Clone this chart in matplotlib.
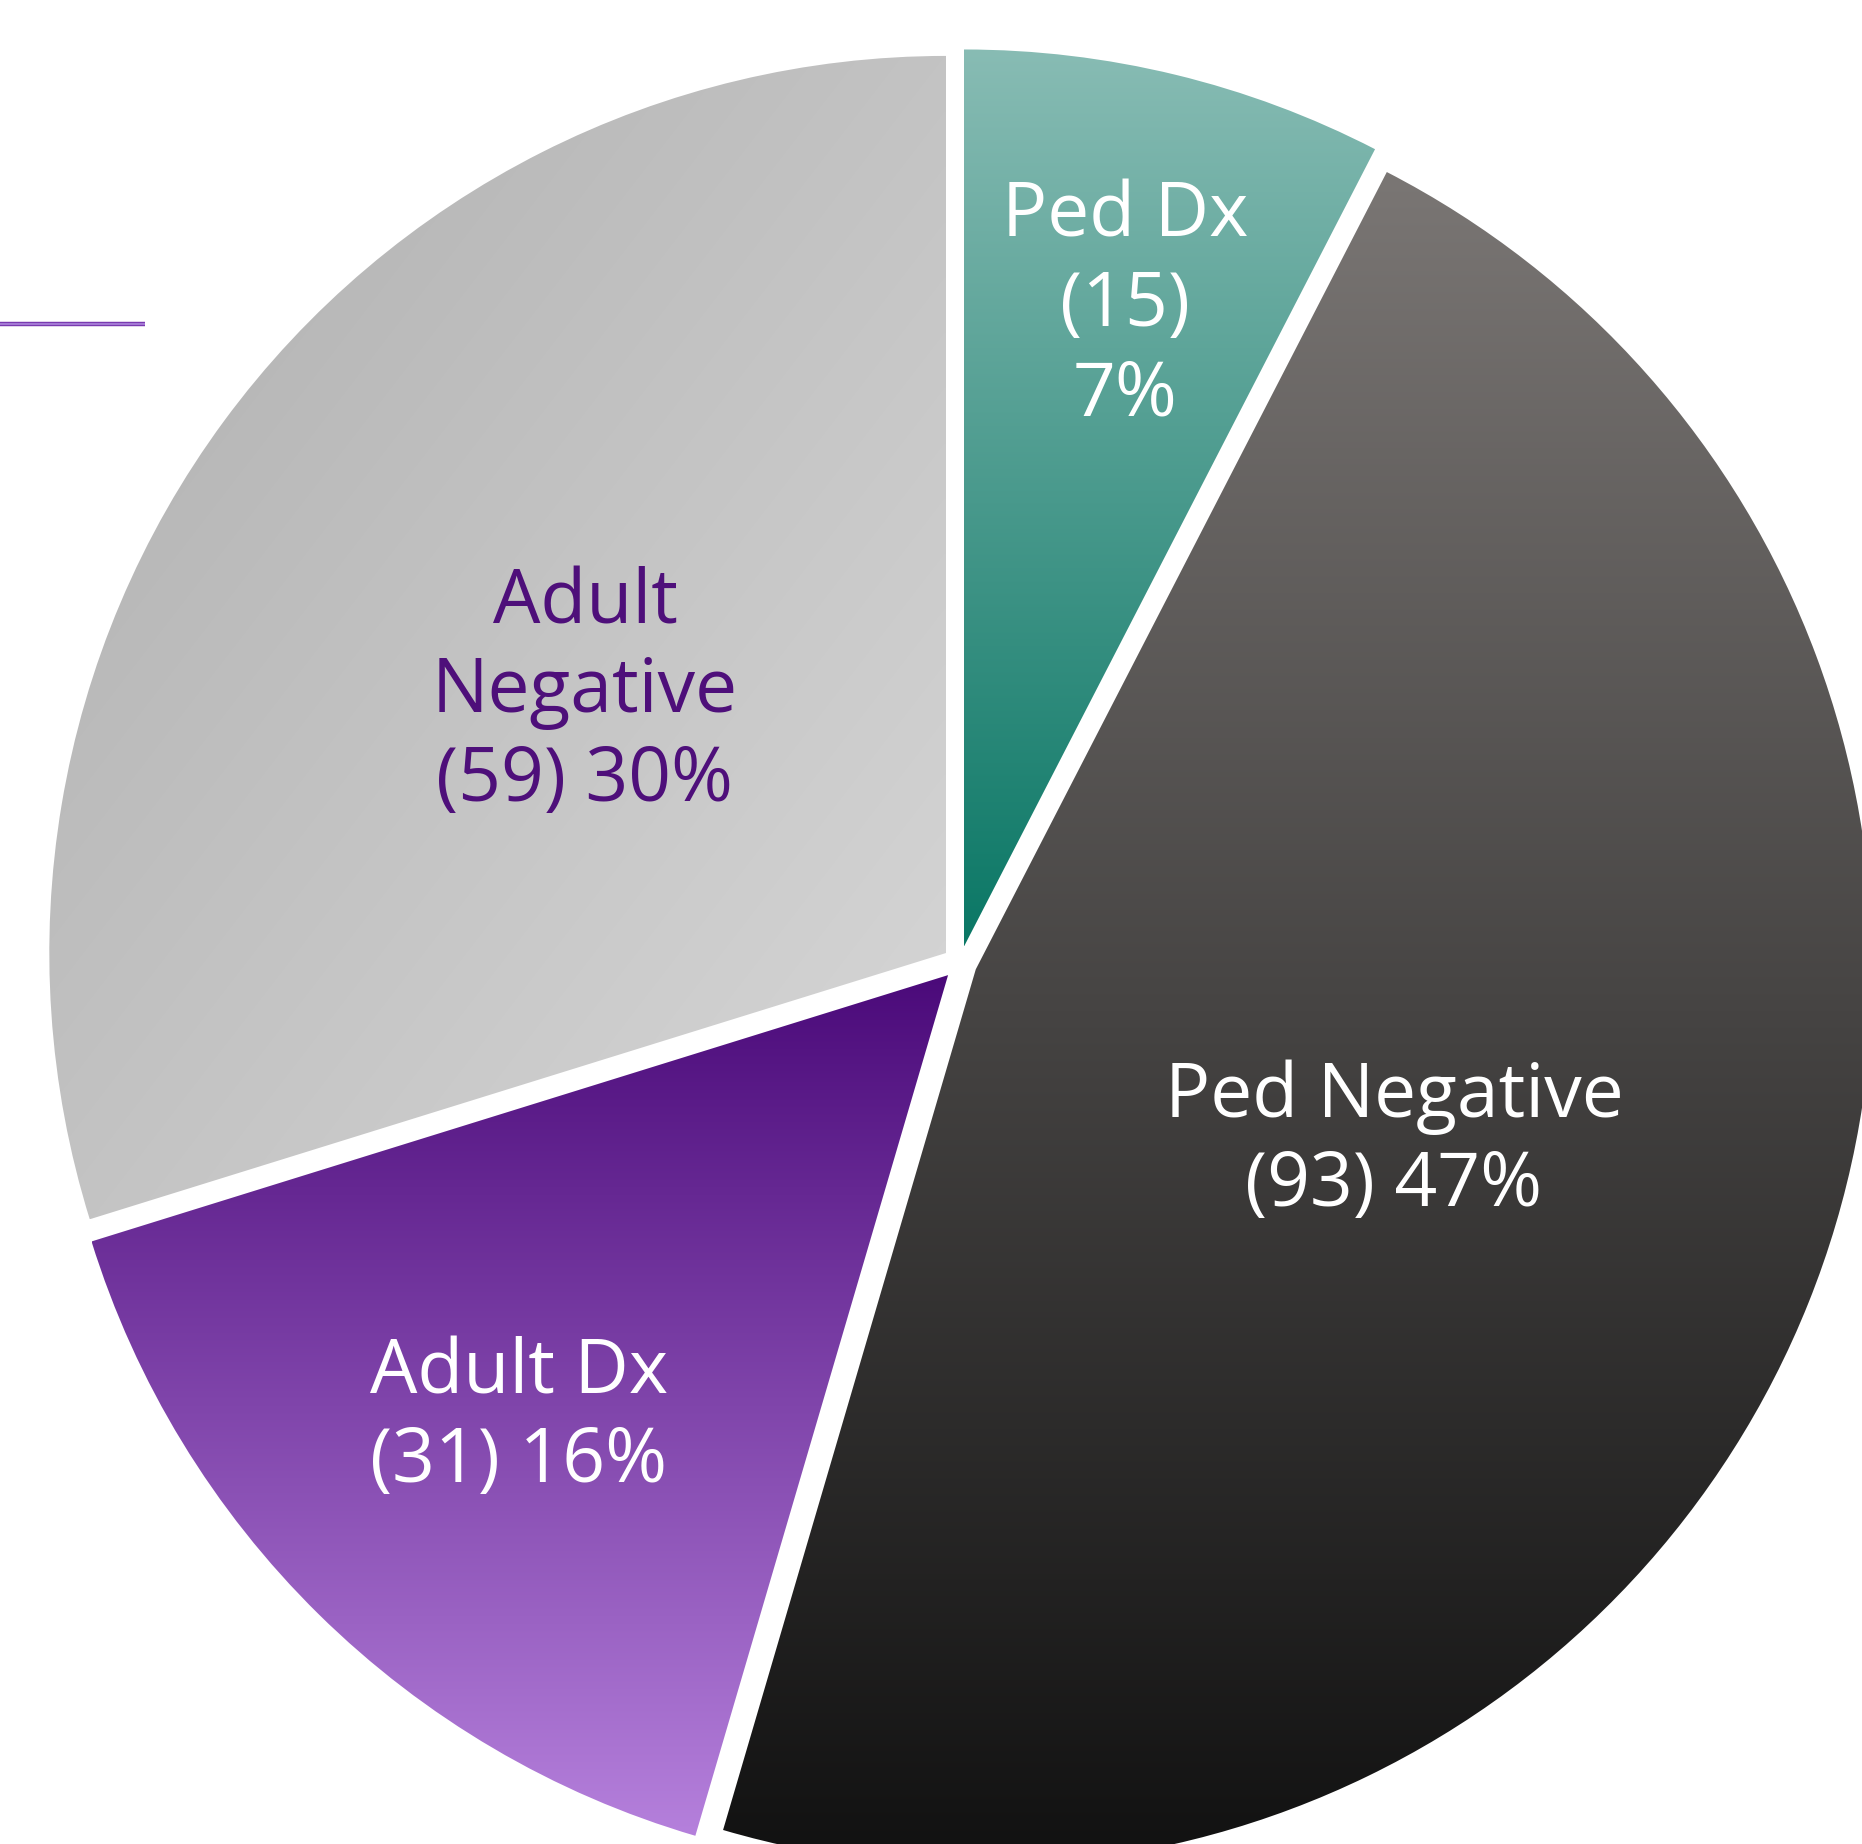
import matplotlib
matplotlib.use("Agg")
import matplotlib.pyplot as plt
import numpy as np
from matplotlib.colors import to_rgb

# data
names = ["Ped Dx", "Ped Negative", "Adult Dx", "Adult Negative"]
counts = [15, 93, 31, 59]
pct_text = ["7%", "47%", "16%", "30%"]

# label text as broken in the picture
label_lines = [
    ["Ped Dx", "(15)", "7%"],
    ["Ped Negative", "(93) 47%"],
    ["Adult Dx", "(31) 16%"],
    ["Adult", "Negative", "(59) 30%"],
]
# text anchor (x, first baseline) in pixels from top-left
label_pos = [(1125, 237), (1394, 1117), (519, 1393), (585, 623)]
label_col = ["white", "white", "white", "#4e0f7a"]

# gradient colours (start, end, direction)
grads = [
    ("#88bcb4", "#0a7765", "v"),
    ("#7a7674", "#111111", "v"),
    ("#4b0a7a", "#b580dc", "v"),
    ("#aeaeae", "#d8d8d8", "d"),
]

W, H = 1862, 1844
fig = plt.figure(figsize=(W / 100, H / 100), dpi=100)
ax = fig.add_axes([0, 0, 1, 1])

cx, cy, r = 960, H - 963, 897
# explode is in data units here (pixels)
wedges, _ = ax.pie(counts, startangle=90, counterclock=False, radius=r,
                   center=(cx, cy), explode=[17] * 4, frame=True,
                   wedgeprops=dict(linewidth=0))

for w, (c0, c1, kind) in zip(wedges, grads):
    bb = w.get_path().get_extents()
    x0, y0, x1, y1 = bb.x0, bb.y0, bb.x1, bb.y1
    n = 300
    if kind == "v":
        # top colour c0 -> bottom colour c1
        t = np.linspace(1, 0, n)[:, None] * np.ones((1, 2))
    else:
        yy, xx = np.mgrid[0:1:n * 1j, 0:1:n * 1j]
        # top-left darker grey, bottom-right lighter
        t = (xx + (1 - yy)) / 2
    a = np.array(to_rgb(c0))
    b = np.array(to_rgb(c1))
    img = a[None, None, :] * (1 - t[..., None]) + b[None, None, :] * t[..., None]
    im = ax.imshow(img, extent=(x0, x1, y0, y1), origin="lower",
                   aspect="auto", interpolation="bilinear", zorder=1)
    im.set_clip_path(w)
    w.set_facecolor("none")

for lines, (x, y), col in zip(label_lines, label_pos, label_col):
    for i, s in enumerate(lines):
        ax.text(x, H - (y + i * 89), s, ha="center", va="baseline",
                fontsize=54, color=col, family="Open Sans", zorder=3)

# stray purple stroke at the left edge
ax.plot([0, 145], [H - 324, H - 324], color="#7a3ab0", lw=3.2, zorder=2,
        solid_capstyle="butt")
ax.plot([0, 145], [H - 324, H - 324], color="#a57ad6", lw=1.4, zorder=2,
        solid_capstyle="butt")

ax.set_xlim(0, W)
ax.set_ylim(0, H)
ax.axis("off")
fig.savefig("out.png", dpi=100, facecolor="white")
